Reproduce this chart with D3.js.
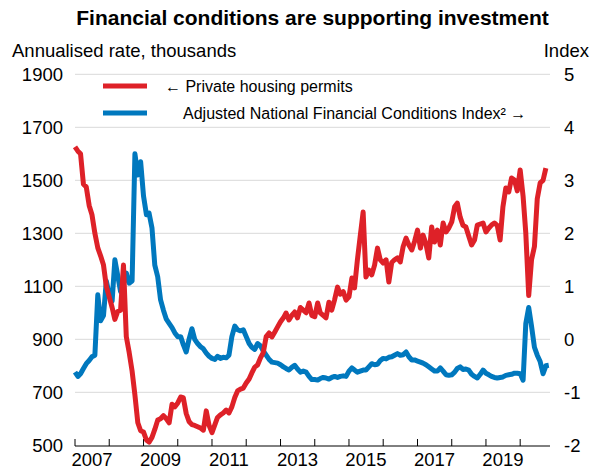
<!DOCTYPE html>
<html>
<head>
<meta charset="utf-8">
<script src="https://cdn.jsdelivr.net/npm/d3@7"></script>
<style>
  html, body { margin: 0; padding: 0; background: #fff; }
  svg { display: block; font-family: Arial, "Liberation Sans", sans-serif; }
</style>
</head>
<body>
<svg id="chart" width="592" height="469"></svg>
<script>
// ---- Data (monthly, starting January 2007) ----
const startMonth = new Date(2007, 0, 1);

// Private housing permits, annualised rate, thousands (left axis)
const permits = [
  1626, 1610, 1600, 1485, 1475, 1405, 1370, 1300, 1245, 1215, 1180, 1100, // 2007
  1060, 1020, 975, 1005, 1010, 1180, 910, 850, 780, 690, 585, 555,        // 2008
  550, 520, 512, 530, 560, 595, 600, 612, 600, 585, 655, 645,             // 2009
  660, 682, 680, 620, 590, 578, 575, 570, 565, 557, 630, 575,             // 2010
  548, 578, 605, 615, 622, 633, 622, 645, 680, 705, 712, 716,             // 2011
  735, 750, 773, 795, 803, 830, 850, 910, 924, 909, 928, 947,             // 2012
  966, 981, 999, 973, 990, 1003, 981, 1020, 1010, 1000, 1037, 990,        // 2013
  985, 1037, 1000, 990, 981, 1040, 1010, 1050, 1097, 1070, 1080, 1048,    // 2014
  1060, 1131, 1094, 1200, 1290, 1380, 1135, 1161, 1143, 1180, 1244, 1200, // 2015
  1188, 1200, 1116, 1190, 1200, 1207, 1192, 1250, 1282, 1256, 1237, 1270, // 2016
  1312, 1244, 1293, 1260, 1207, 1324, 1267, 1312, 1256, 1339, 1305, 1320, // 2017
  1343, 1400, 1414, 1361, 1330, 1324, 1290, 1256, 1275, 1331, 1335, 1339, // 2018
  1305, 1320, 1331, 1339, 1330, 1275, 1400, 1471, 1456, 1509, 1501, 1460, // 2019
  1539, 1440, 1300, 1065, 1200, 1250, 1430, 1490, 1500, 1546              // 2020
];

// Adjusted National Financial Conditions Index (right axis)
const anfci = [
  -0.62, -0.70, -0.65, -0.55, -0.46, -0.40, -0.33, -0.30, 0.84, 0.35, 0.45, 1.10, // 2007
  0.85, 0.72, 1.50, 1.20, 0.90, 1.05, 1.25, 1.06, 1.10, 3.50, 3.10, 3.35,         // 2008
  2.70, 2.35, 2.38, 2.10, 1.40, 1.18, 0.75, 0.55, 0.38, 0.30, 0.22, 0.12,         // 2009
  0.05, 0.05, -0.10, -0.24, 0.00, 0.20, 0.00, -0.08, -0.14, -0.18, -0.26, -0.32,  // 2010
  -0.36, -0.38, -0.32, -0.36, -0.34, -0.35, -0.30, 0.05, 0.25, 0.18, 0.16, 0.18,  // 2011
  0.05, -0.08, -0.15, -0.19, -0.08, -0.12, -0.22, -0.30, -0.38, -0.43, -0.44, -0.45, // 2012
  -0.48, -0.52, -0.55, -0.58, -0.53, -0.49, -0.56, -0.62, -0.60, -0.62, -0.70, -0.76, // 2013
  -0.76, -0.77, -0.74, -0.72, -0.73, -0.75, -0.72, -0.70, -0.72, -0.70, -0.69, -0.70, // 2014
  -0.60, -0.54, -0.58, -0.62, -0.60, -0.58, -0.58, -0.52, -0.46, -0.48, -0.47, -0.40, // 2015
  -0.36, -0.37, -0.34, -0.33, -0.30, -0.27, -0.30, -0.29, -0.24, -0.33, -0.39, -0.39, // 2016
  -0.41, -0.43, -0.45, -0.48, -0.52, -0.56, -0.60, -0.60, -0.54, -0.60, -0.67, -0.68, // 2017
  -0.67, -0.62, -0.55, -0.52, -0.57, -0.56, -0.58, -0.66, -0.70, -0.73, -0.66, -0.58, // 2018
  -0.64, -0.67, -0.70, -0.72, -0.73, -0.72, -0.71, -0.68, -0.67, -0.66, -0.64, -0.64, // 2019
  -0.65, -0.77, 0.30, 0.60, 0.25, -0.15, -0.30, -0.42, -0.65, -0.50, -0.49             // 2020
];

const leftTicks = [700, 900, 1100, 1300, 1500, 1700, 1900];
const leftLabels = [500, 700, 900, 1100, 1300, 1500, 1700, 1900];
const rightLabels = [-2, -1, 0, 1, 2, 3, 4, 5];
const yearLabels = [2007, 2009, 2011, 2013, 2015, 2017, 2019];
const yearTicks = d3.range(2007, 2021);

const titleText = "Financial conditions are supporting investment";
const leftAxisTitle = "Annualised rate, thousands";
const rightAxisTitle = "Index";
const legendItems = [
  { label: "\u2190 Private housing permits", color: "#de2128" },
  { label: "Adjusted National Financial Conditions Index\u00B2 \u2192", color: "#0078be" }
];

// ---- Layout ----
const svg = d3.select("#chart");
const L = 75, R = 550, T = 74.3, B = 445.3;
const fs = 18.5;

const x = d3.scaleTime()
  .domain([new Date(2007, 0, 1), new Date(2020, 10, 14)])
  .range([L, R]);
const yL = d3.scaleLinear().domain([500, 1900]).range([B, T]);
const yR = d3.scaleLinear().domain([-2, 5]).range([B, T]);

const monthDate = i => d3.timeMonth.offset(startMonth, i);

// Title
svg.append("text")
  .attr("x", 312.5).attr("y", 25)
  .attr("text-anchor", "middle")
  .attr("font-size", 21).attr("font-weight", "bold")
  .attr("fill", "#000")
  .text(titleText);

// Axis titles
svg.append("text").attr("x", 12).attr("y", 57)
  .attr("font-size", fs).attr("fill", "#000").text(leftAxisTitle);
svg.append("text").attr("x", 589).attr("y", 57)
  .attr("text-anchor", "end")
  .attr("font-size", fs).attr("fill", "#000").text(rightAxisTitle);

// Gridlines
svg.append("g").selectAll("line").data(leftTicks).join("line")
  .attr("x1", L).attr("x2", R)
  .attr("y1", d => yL(d)).attr("y2", d => yL(d))
  .attr("stroke", "#d9d9d9").attr("stroke-width", 1);

// Left axis labels
svg.append("g").selectAll("text").data(leftLabels).join("text")
  .attr("x", 63).attr("y", d => yL(d))
  .attr("dy", "0.35em")
  .attr("text-anchor", "end")
  .attr("font-size", fs).attr("fill", "#000")
  .text(d => d);

// Right axis labels
svg.append("g").selectAll("text").data(rightLabels).join("text")
  .attr("x", 564).attr("y", d => yR(d))
  .attr("dy", "0.35em")
  .attr("text-anchor", "start")
  .attr("font-size", fs).attr("fill", "#000")
  .text(d => d);

// X axis
const xAxisY = B + 0.7;
svg.append("line")
  .attr("x1", L).attr("x2", R)
  .attr("y1", xAxisY).attr("y2", xAxisY)
  .attr("stroke", "#000").attr("stroke-width", 1);
svg.append("g").selectAll("line").data(yearTicks).join("line")
  .attr("x1", d => x(new Date(d, 0, 1))).attr("x2", d => x(new Date(d, 0, 1)))
  .attr("y1", xAxisY - 7).attr("y2", xAxisY)
  .attr("stroke", "#000").attr("stroke-width", 1);
svg.append("g").selectAll("text").data(yearLabels).join("text")
  .attr("x", d => x(new Date(d, 6, 1)))
  .attr("y", 466)
  .attr("text-anchor", "middle")
  .attr("font-size", fs).attr("fill", "#000")
  .text(d => d);

// Lines
const lineL = d3.line().x((d, i) => x(monthDate(i))).y(d => yL(d)).curve(d3.curveLinear);
const lineR = d3.line().x((d, i) => x(monthDate(i))).y(d => yR(d)).curve(d3.curveLinear);

svg.append("path").datum(anfci)
  .attr("d", lineR)
  .attr("fill", "none").attr("stroke", legendItems[1].color)
  .attr("stroke-width", 5).attr("stroke-linejoin", "round");

svg.append("path").datum(permits)
  .attr("d", lineL)
  .attr("fill", "none").attr("stroke", legendItems[0].color)
  .attr("stroke-width", 5).attr("stroke-linejoin", "round");

// Legend
const legendY = [86, 113];
const legendTextX = [165, 183];
legendItems.forEach((item, i) => {
  svg.append("line")
    .attr("x1", 103).attr("x2", 147)
    .attr("y1", legendY[i]).attr("y2", legendY[i])
    .attr("stroke", item.color).attr("stroke-width", 5);
  svg.append("text")
    .attr("x", legendTextX[i]).attr("y", legendY[i])
    .attr("dy", "0.35em")
    .attr("font-size", 16).attr("fill", "#000")
    .text(item.label);
});
</script>
</body>
</html>
